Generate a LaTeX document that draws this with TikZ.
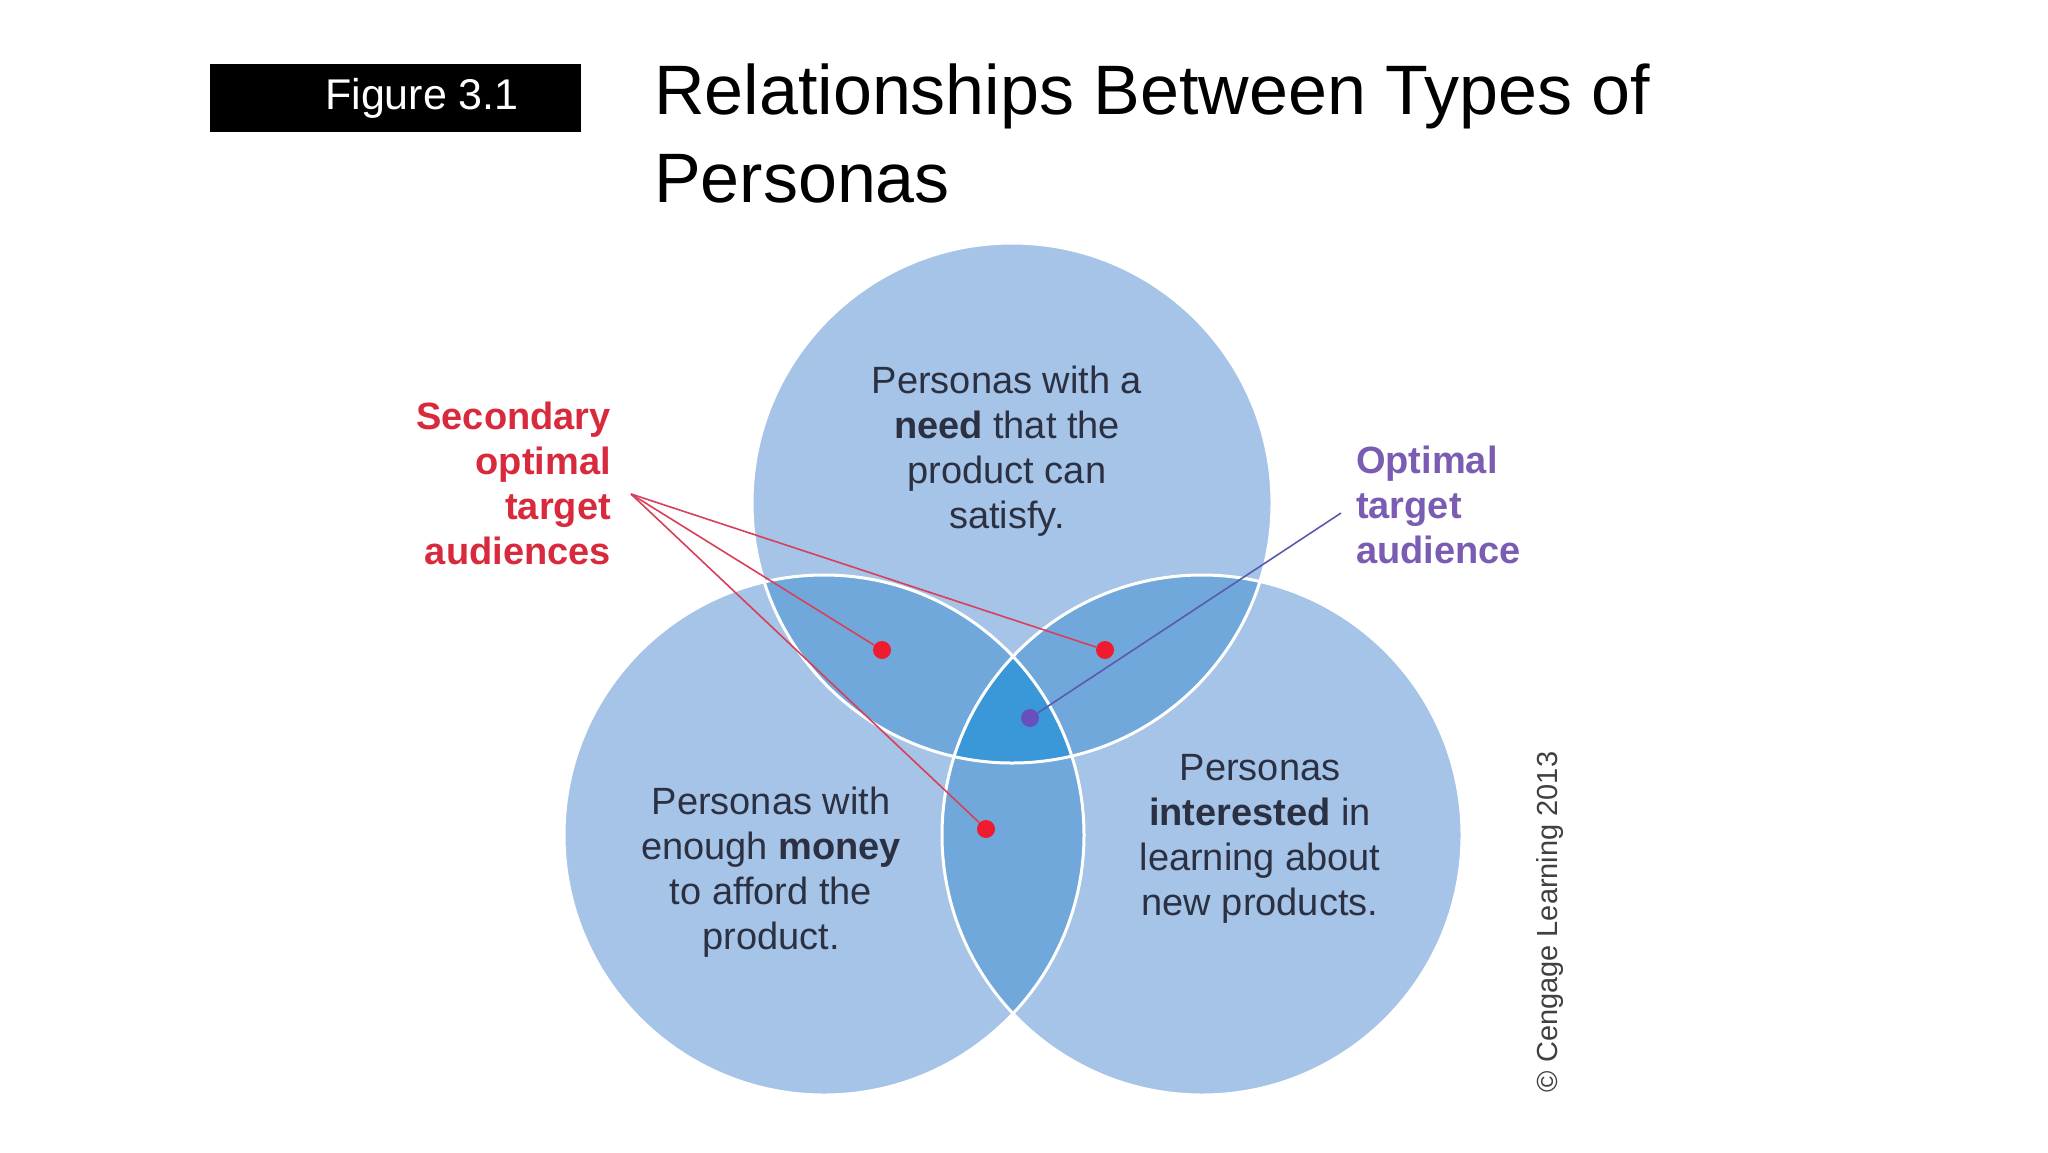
\documentclass[tikz,border=0pt]{standalone}
\usepackage{fontspec}
\setmainfont{Liberation Sans}
\usetikzlibrary{positioning}

\definecolor{vennfill}{HTML}{A6C4E8}
\definecolor{venntwo}{HTML}{70A8DB}
\definecolor{vennthree}{HTML}{3A97D8}
\definecolor{inktxt}{HTML}{2B3142}
\definecolor{secred}{HTML}{D82A3C}
\definecolor{optpurple}{HTML}{7A5DB3}
\definecolor{dotred}{HTML}{EE1C2E}
\definecolor{linered}{HTML}{D8405A}
\definecolor{lineblue}{HTML}{5A5AAE}

\begin{document}
\begin{tikzpicture}[
    x=1pt, y=-1pt,
    txt/.style={font=\fontsize{38}{45}\selectfont, text=inktxt, align=center, inner sep=0pt},
    lbl/.style={font=\fontsize{38}{45}\selectfont\bfseries, inner sep=0pt},
    seclbl/.style={lbl, text=secred, align=right},
    optlbl/.style={lbl, text=optpurple, align=left},
    dot/.style={circle, inner sep=0pt, minimum size=18pt},
    reddot/.style={dot, fill=dotred},
    bluedot/.style={dot, fill=optpurple!85!blue},
    redln/.style={draw=linered, line width=1.6pt},
    blueln/.style={draw=lineblue, line width=1.6pt},
    rim/.style={draw=white, line width=3pt},
]
    \fill[white] (0,0) rectangle (2048,1152);
    \useasboundingbox (0,0) rectangle (2048,1152);

    % ---------- heading ----------
    \node[fill=black, minimum width=371pt, minimum height=68pt, inner sep=0pt] (figbox) at (395.5,98) {};
    \node[text=white, font=\fontsize{43}{50}\selectfont, inner sep=0pt] (fignum) at (422,98) {Figure 3.1};
    \node[anchor=base west, align=left, inner sep=0pt, font=\fontsize{70}{88}\selectfont] (title) at (654,202)
        {Relationships Between Types of\\Personas};

    % ---------- circles ----------
    \coordinate (cneed)  at (1012,503);
    \coordinate (cmoney) at (824,835);
    \coordinate (cint)   at (1202,835);
    \fill[vennfill] (cneed) circle[radius=260pt] (cmoney) circle[radius=260pt] (cint) circle[radius=260pt];
    \begin{scope}
        \clip (cneed) circle[radius=260pt];
        \fill[venntwo] (cmoney) circle[radius=260pt] (cint) circle[radius=260pt];
    \end{scope}
    \begin{scope}
        \clip (cmoney) circle[radius=260pt];
        \fill[venntwo] (cint) circle[radius=260pt];
        \clip (cint) circle[radius=260pt];
        \fill[vennthree] (cneed) circle[radius=260pt];
    \end{scope}
    \draw[rim] (cneed) circle[radius=260pt] (cmoney) circle[radius=260pt] (cint) circle[radius=260pt];

    % ---------- texts ----------
    \node[txt] (need)  at (1007,451) {Personas with a\\\textbf{need} that the\\product can\\satisfy.};
    \node[txt] (money) at (771,872)  {Personas with\\enough \textbf{money}\\to afford the\\product.};
    \node[txt] (inter) at (1260,839) {Personas\\\textbf{interested} in\\learning about\\new products.};

    % ---------- audiences ----------
    \node[seclbl, anchor=east] (sec) at (611,483) {Secondary\\optimal\\target\\audiences};
    \node[optlbl, anchor=west] (opt) at (1356,505) {Optimal\\target\\audience};
    \coordinate (sectip) at (631,494);
    \coordinate (opttip) at (1341,513);

    \node[reddot] (dneedmoney) at (882,650) {};
    \node[reddot] (dneedint)   at (1105,650) {};
    \node[reddot] (dmoneyint)  at (986,829) {};
    \node[bluedot] (dall)      at (1030,718) {};
    \draw[redln] (sectip) -- (dneedmoney);
    \draw[redln] (sectip) -- (dneedint);
    \draw[redln] (sectip) -- (dmoneyint);
    \draw[blueln] (opttip) -- (dall);

    \node[rotate=90, text=black!75, font=\fontsize{29}{34}\selectfont, inner sep=0pt] (copy) at (1550,922)
        {\textcopyright\ Cengage Learning 2013};
\end{tikzpicture}
\end{document}
